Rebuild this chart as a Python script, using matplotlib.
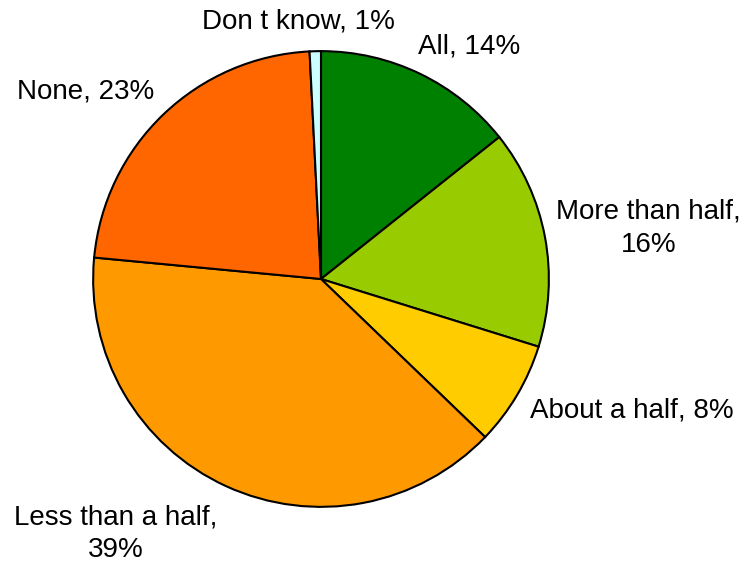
import matplotlib
matplotlib.use("Agg")
import matplotlib.pyplot as plt

categories = ["All", "More than half", "About a half", "Less than a half", "None", "Don t know"]
shares = [14.3, 15.5, 7.4, 39.3, 22.7, 0.8]
label_texts = ["All, 14%", "More than half,\n16%", "About a half, 8%",
               "Less than a half,\n39%", "None, 23%", "Don t know, 1%"]
colors = ["#008000", "#99CC00", "#FFCC00", "#FF9900", "#FF6600", "#CCFFFF"]

# label positions in pie-radius units (layout, not data)
label_pos = [(0.651, 1.022), (1.437, 0.223), (1.362, -0.576),
             (-0.90, -1.118), (-1.035, 0.825), (-0.10, 1.131)]

plt.rcParams['font.family'] = ['Liberation Sans', 'DejaVu Sans']

fig = plt.figure(figsize=(7.47, 5.65), dpi=100)
W, H = 747, 565
cx, cy, r = 321, 279, 229
ax = fig.add_axes([(cx - r) / W, 1 - (cy + r) / H, 2 * r / W, 2 * r / H])
ax.pie(shares, colors=colors, startangle=90, counterclock=False,
       wedgeprops=dict(edgecolor="black", linewidth=1.5), radius=1.0)
ax.set_xlim(-1.005, 1.005)
ax.set_ylim(-1.005, 1.005)
ax.set_aspect('equal')
ax.axis('off')

for txt, (x, y) in zip(label_texts, label_pos):
    ax.text(x, y, txt, ha='center', va='center', fontsize=20,
            linespacing=1.35, clip_on=False)

fig.savefig("out.png", dpi=100)
